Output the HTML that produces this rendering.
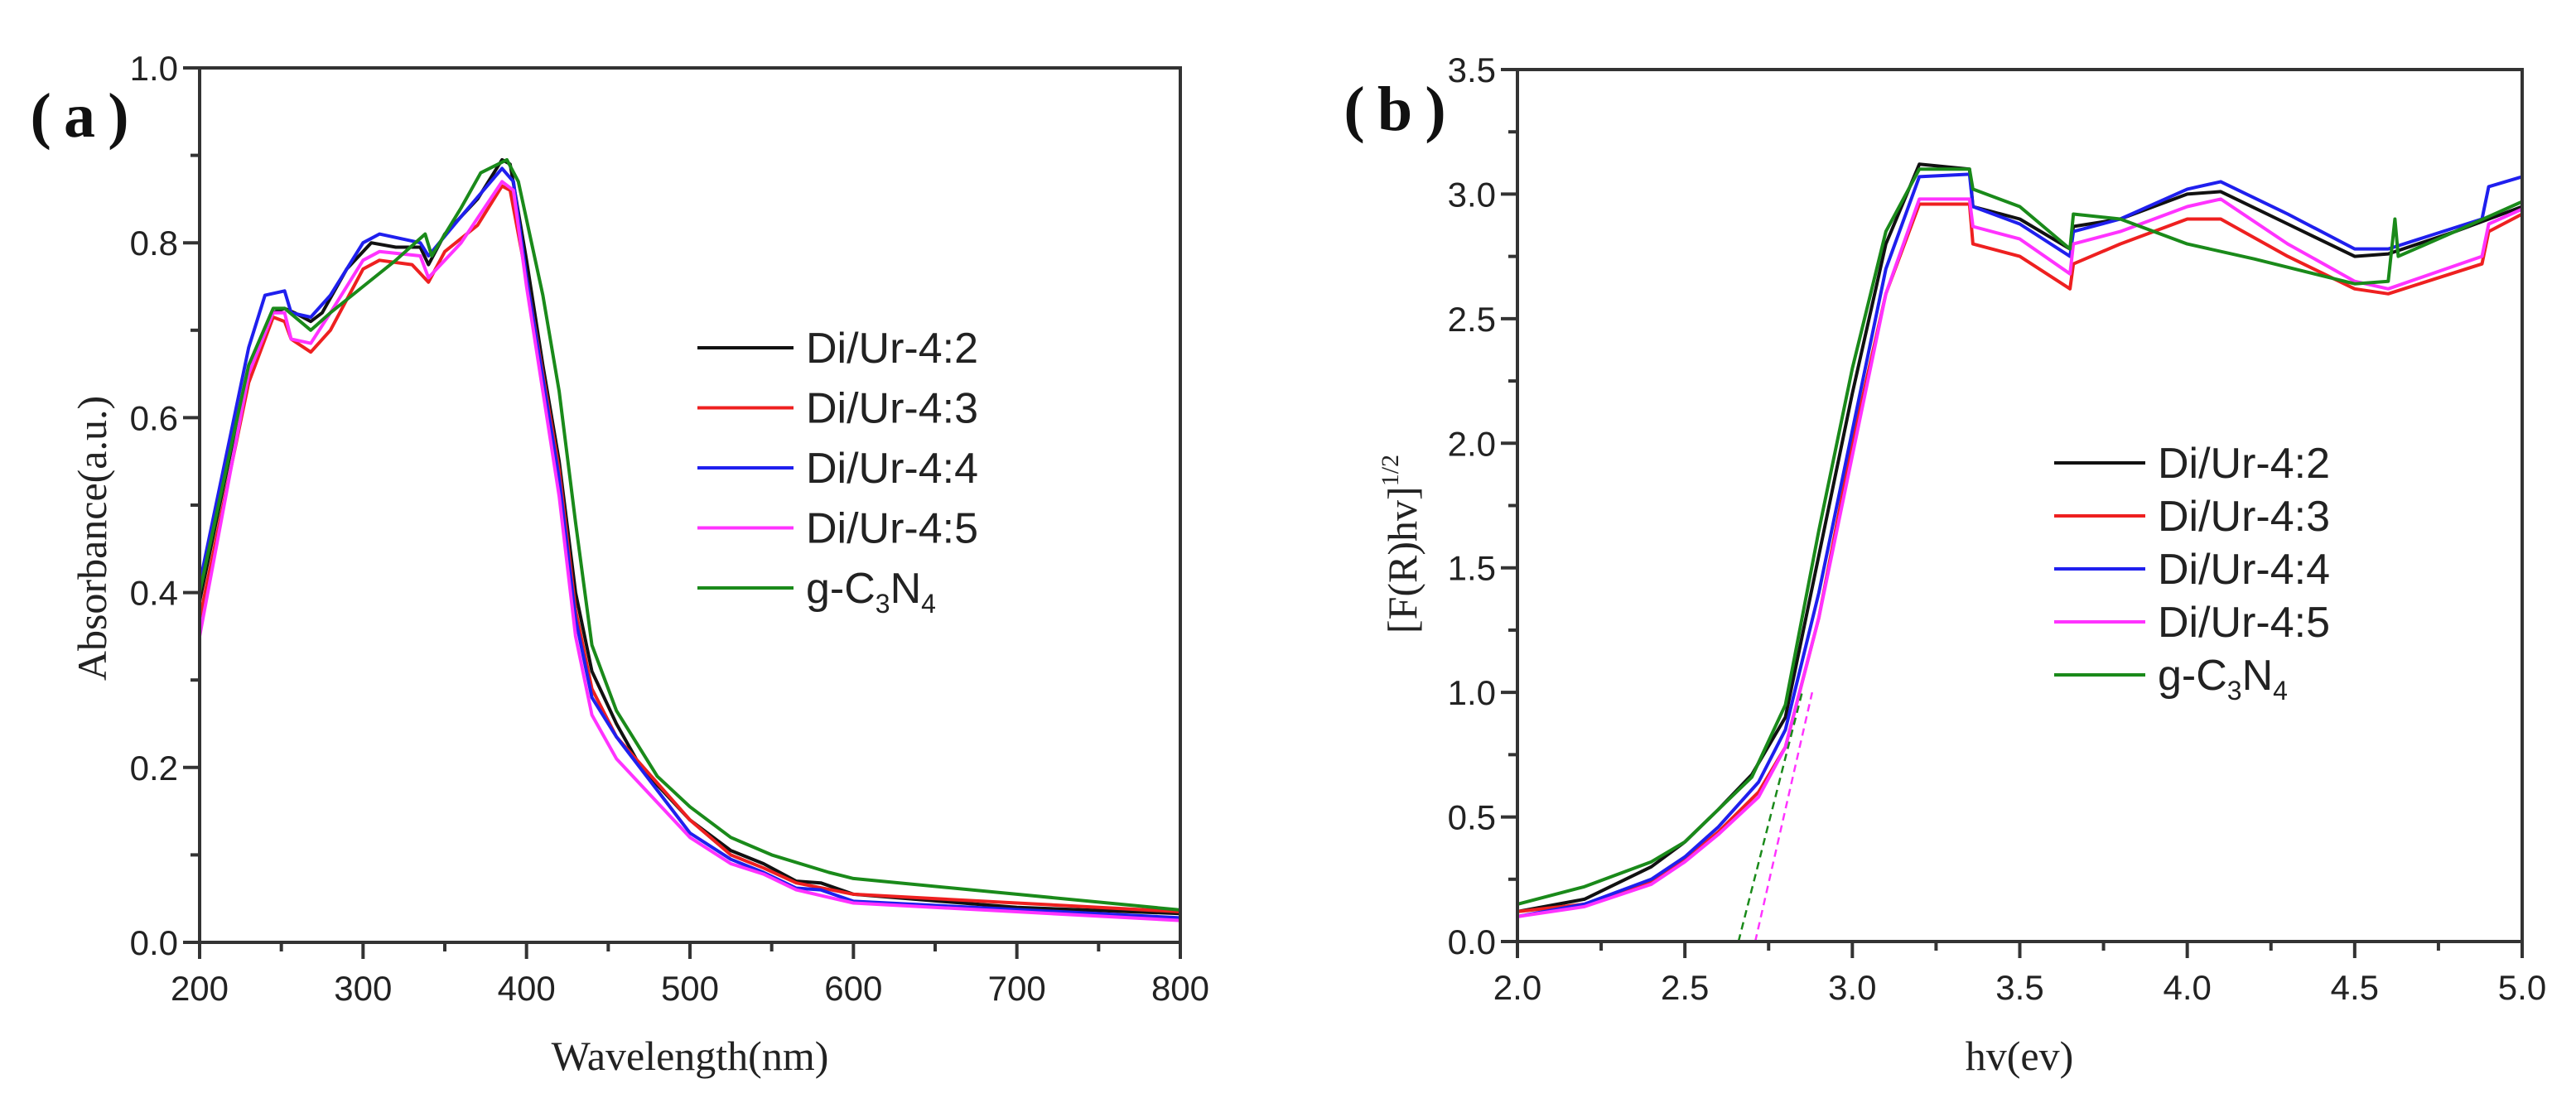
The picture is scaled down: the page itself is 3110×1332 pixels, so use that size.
<!DOCTYPE html>
<html><head><meta charset="utf-8"><style>
html,body{margin:0;padding:0;background:#fff}
svg{display:block}
.tk{font-family:"Liberation Sans",Arial,sans-serif;font-size:42px;fill:#222}
.ti{font-family:"Liberation Serif",serif;font-size:50px;fill:#222}
.lg{font-family:"Liberation Sans",Arial,sans-serif;font-size:52px;fill:#222}
.pl{font-family:"Liberation Serif",serif;font-size:76px;font-weight:bold;fill:#111}
</style></head><body>
<svg id="chart" width="3110" height="1332" viewBox="0 0 3110 1332" xmlns="http://www.w3.org/2000/svg"></svg>
<script>
const colors=["#111111","#ee2020","#1f1fee","#ff33ff","#1a8a1a"];
const seriesNames=["Di/Ur-4:2","Di/Ur-4:3","Di/Ur-4:4","Di/Ur-4:5","g-C3N4"];
// Panel a: wavelength (nm) vs absorbance
const aK=[[200,.39],[220,.57],[235,.68],[245,.72],[252,.725],[258,.72],[268,.71],[275,.72],[290,.77],[305,.80],[320,.795],[335,.795],[340,.775],[350,.81],[370,.85],[385,.895],[390,.89],[400,.78],[410,.66],[420,.55],[430,.40],[440,.31],[455,.25],[470,.20],[500,.14],[525,.105],[545,.09],[565,.07],[580,.068],[600,.055],[700,.04],[800,.033]];
const aR=[[200,.37],[230,.64],[245,.715],[252,.71],[256,.69],[268,.675],[280,.70],[300,.77],[310,.78],[330,.775],[340,.755],[350,.79],[370,.82],[385,.865],[390,.86],[400,.76],[420,.54],[430,.38],[440,.29],[455,.235],[500,.14],[525,.10],[545,.085],[565,.068],[600,.055],[700,.045],[800,.035]];
const aB=[[200,.41],[230,.68],[240,.74],[252,.745],[256,.72],[268,.715],[280,.74],[300,.80],[310,.81],[335,.80],[340,.785],[360,.83],[385,.885],[392,.87],[400,.76],[420,.53],[430,.37],[440,.28],[455,.235],[500,.125],[525,.095],[545,.08],[565,.062],[580,.06],[600,.047],[800,.028]];
const aM=[[200,.35],[230,.65],[245,.72],[252,.72],[256,.69],[268,.685],[280,.72],[300,.78],[310,.79],[335,.785],[340,.76],[360,.80],[385,.87],[392,.86],[400,.75],[420,.51],[430,.35],[440,.26],[455,.21],[500,.12],[525,.09],[545,.078],[565,.06],[600,.045],[800,.025]];
const aG=[[200,.40],[230,.66],[245,.725],[252,.725],[268,.70],[280,.72],[300,.75],[320,.78],[338,.81],[342,.785],[360,.84],[372,.88],[388,.895],[395,.87],[410,.74],[420,.63],[430,.48],[440,.34],[455,.265],[480,.19],[500,.155],[525,.12],[550,.10],[585,.08],[600,.073],[700,.055],[800,.037]];
// Panel b: hv (eV) vs [F(R)hv]^1/2
const bK=[[2.0,.12],[2.2,.17],[2.4,.30],[2.5,.40],[2.6,.53],[2.7,.67],[2.8,.90],[2.9,1.55],[3.0,2.2],[3.1,2.8],[3.2,3.12],[3.35,3.1],[3.36,2.95],[3.5,2.9],[3.65,2.78],[3.66,2.87],[3.8,2.9],[4.0,3.0],[4.1,3.01],[4.3,2.88],[4.5,2.75],[4.6,2.76],[4.8,2.85],[5.0,2.95]];
const bR=[[2.0,.12],[2.2,.15],[2.4,.24],[2.5,.33],[2.6,.44],[2.72,.60],[2.8,.78],[2.9,1.3],[3.0,2.0],[3.1,2.6],[3.2,2.96],[3.35,2.96],[3.36,2.8],[3.5,2.75],[3.65,2.62],[3.66,2.72],[3.8,2.8],[4.0,2.9],[4.1,2.9],[4.3,2.75],[4.5,2.62],[4.6,2.6],[4.88,2.72],[4.9,2.85],[5.0,2.92]];
const bB=[[2.0,.10],[2.2,.15],[2.4,.25],[2.5,.34],[2.6,.46],[2.72,.64],[2.8,.85],[2.9,1.4],[3.0,2.05],[3.1,2.7],[3.2,3.07],[3.35,3.08],[3.36,2.95],[3.5,2.88],[3.65,2.75],[3.66,2.85],[3.8,2.9],[4.0,3.02],[4.1,3.05],[4.3,2.92],[4.5,2.78],[4.6,2.78],[4.88,2.9],[4.9,3.03],[5.0,3.07]];
const bM=[[2.0,.10],[2.2,.14],[2.4,.23],[2.5,.32],[2.6,.43],[2.72,.58],[2.8,.78],[2.9,1.3],[3.0,1.95],[3.1,2.6],[3.2,2.98],[3.35,2.98],[3.36,2.87],[3.5,2.82],[3.65,2.68],[3.66,2.8],[3.8,2.85],[4.0,2.95],[4.1,2.98],[4.3,2.8],[4.5,2.65],[4.6,2.62],[4.88,2.75],[4.9,2.88],[5.0,2.94]];
const bG=[[2.0,.15],[2.2,.22],[2.4,.32],[2.5,.40],[2.6,.53],[2.7,.66],[2.8,.95],[2.9,1.65],[3.0,2.3],[3.1,2.85],[3.2,3.1],[3.35,3.1],[3.36,3.02],[3.5,2.95],[3.65,2.78],[3.66,2.92],[3.8,2.9],[4.0,2.8],[4.2,2.74],[4.5,2.64],[4.6,2.65],[4.62,2.9],[4.63,2.75],[4.8,2.85],[5.0,2.97]];
const fitG=[[2.66,0],[2.85,1.0]];
const fitM=[[2.71,0],[2.88,1.0]];
const aXTicks=[200,300,400,500,600,700,800];
const aYTicks=[0.0,0.2,0.4,0.6,0.8,1.0];
const bXTicks=[2.0,2.5,3.0,3.5,4.0,4.5,5.0];
const bYTicks=[0.0,0.5,1.0,1.5,2.0,2.5,3.0,3.5];

const NS="http://www.w3.org/2000/svg";
const svg=document.getElementById('chart');
function mk(tag,attrs,parent){const e=document.createElementNS(NS,tag);for(const k in attrs)e.setAttribute(k,attrs[k]);(parent||svg).appendChild(e);return e;}

function panel(cfg){
  const g=mk('g',{});
  
  
  const sx=v=>cfg.x0+(v-cfg.xmin)/(cfg.xmax-cfg.xmin)*(cfg.x1-cfg.x0);
  const sy=v=>cfg.y1-(v-cfg.ymin)/(cfg.ymax-cfg.ymin)*(cfg.y1-cfg.y0);
  cfg.series.forEach((s,i)=>{
    const p=mk('polyline',{points:s.map(d=>sx(d[0]).toFixed(1)+','+sy(d[1]).toFixed(1)).join(' '),fill:'none',stroke:colors[i],'stroke-width':4,'stroke-linejoin':'round'},g);
    
    
  });
  (cfg.fits||[]).forEach(f=>{
    const l=mk('line',{x1:sx(f.d[0][0]),y1:sy(f.d[0][1]),x2:sx(f.d[1][0]),y2:sy(f.d[1][1]),stroke:f.c,'stroke-width':2.5,'stroke-dasharray':'9 6'},g);
    
    
  });
  const fr=mk('rect',{x:cfg.x0,y:cfg.y0,width:cfg.x1-cfg.x0,height:cfg.y1-cfg.y0,fill:'none',stroke:'#333','stroke-width':4},g);
  
  
  const xs=cfg.xt[1]-cfg.xt[0];
  cfg.xt.forEach((v,i)=>{
    mk('line',{x1:sx(v),y1:cfg.y1,x2:sx(v),y2:cfg.y1+20,stroke:'#333','stroke-width':4},g);
    if(i<cfg.xt.length-1) mk('line',{x1:sx(v+xs/2),y1:cfg.y1,x2:sx(v+xs/2),y2:cfg.y1+11,stroke:'#333','stroke-width':4},g);
    const t=mk('text',{x:sx(v),y:cfg.y1+70,'text-anchor':'middle',class:'tk'},g);
    t.textContent=v.toFixed(cfg.xd);
    
    
  });
  const ys=cfg.yt[1]-cfg.yt[0];
  cfg.yt.forEach((v,i)=>{
    mk('line',{x1:cfg.x0-20,y1:sy(v),x2:cfg.x0,y2:sy(v),stroke:'#333','stroke-width':4},g);
    if(i<cfg.yt.length-1) mk('line',{x1:cfg.x0-11,y1:sy(v+ys/2),x2:cfg.x0,y2:sy(v+ys/2),stroke:'#333','stroke-width':4},g);
    const t=mk('text',{x:cfg.x0-26,y:sy(v)+15,'text-anchor':'end',class:'tk'},g);
    t.textContent=v.toFixed(1);
    
    
  });
  cfg.series.forEach((s,i)=>{
    const y=cfg.leg.y+i*cfg.leg.dy;
    const e=mk('g',{},g);
    
    
    mk('line',{x1:cfg.leg.x,y1:y,x2:cfg.leg.x+cfg.leg.w,y2:y,stroke:colors[i],'stroke-width':4},e);
    const t=mk('text',{x:cfg.leg.x+cfg.leg.w+15,y:y+18,class:'lg'},e);
    if(i===4){t.innerHTML='g-C<tspan dy="12" font-size="32">3</tspan><tspan dy="-12">N</tspan><tspan dy="12" font-size="32">4</tspan>';}
    else t.textContent=seriesNames[i];
  });
}
panel({name:'panel-a-absorbance',x0:241,x1:1425,y0:82,y1:1138,xmin:200,xmax:800,ymin:0,ymax:1,xt:aXTicks,yt:aYTicks,xd:0,
  series:[aK,aR,aB,aM,aG],leg:{x:842,w:116,y:420,dy:72.5}});
panel({name:'panel-b-tauc-plot',x0:1832,x1:3045,y0:84,y1:1137,xmin:2,xmax:5,ymin:0,ymax:3.5,xt:bXTicks,yt:bYTicks,xd:1,
  series:[bK,bR,bB,bM,bG],fits:[{d:fitG,c:'#1a8a1a'},{d:fitM,c:'#ff33ff'}],leg:{x:2480,w:110,y:559,dy:64}});
function txt(x,y,cls,html,name,rot){const t=mk('text',{x:x,y:y,class:cls,'text-anchor':'middle'});if(rot)t.setAttribute('transform','rotate(-90 '+x+' '+y+')');t.innerHTML=html;return t;}
txt(833,1292,'ti','Wavelength(nm)','x-axis-title-a');
txt(128,650,'ti','Absorbance(a.u.)','y-axis-title-a',true);
txt(2438,1292,'ti','hv(ev)','x-axis-title-b');
txt(1710,657,'ti','[F(R)hv]<tspan dy="-22" font-size="30">1/2</tspan>','y-axis-title-b',true);
txt(96,165,'pl','(&#8201;a&#8201;)','panel-label-a');
txt(1684,157,'pl','(&#8201;b&#8201;)','panel-label-b');
</script>
</body></html>
